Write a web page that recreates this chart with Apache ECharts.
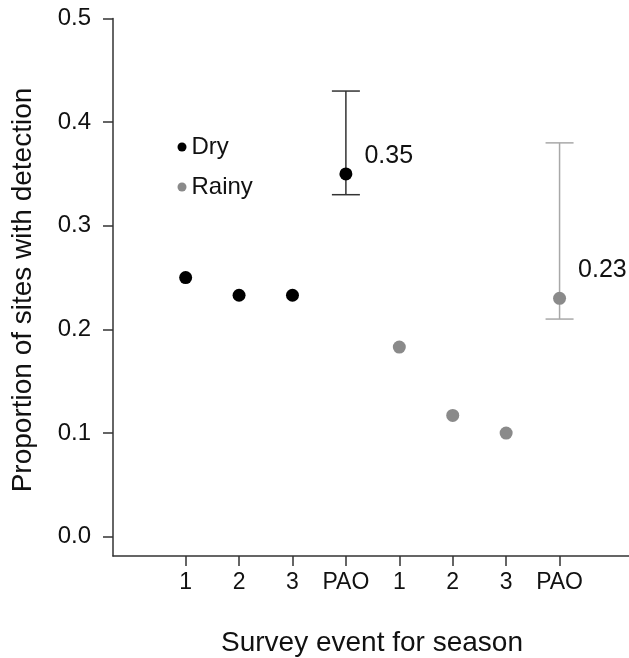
<!DOCTYPE html>
<html>
<head>
<meta charset="utf-8">
<title>Proportion of sites with detection</title>
<script src="https://cdn.jsdelivr.net/npm/echarts@6/dist/echarts.min.js"></script>
<style>
  html, body { margin: 0; padding: 0; background: #fff; }
  #chart { width: 629px; height: 658px; }
</style>
</head>
<body>
<div id="chart"></div>
<script>
// Survey events within each season; the last one is the season-level estimate (PAO)
const eventLabels = ['1', '2', '3', 'PAO'];
// Proportion of sites with a detection, per survey event
const dryValues = [0.25, 0.233, 0.233, 0.35];
const rainyValues = [0.183, 0.117, 0.1, 0.23];
// Interval around the PAO estimate: [lower, upper]
const dryPaoInterval = [0.33, 0.43];
const rainyPaoInterval = [0.21, 0.38];
// Y axis ticks
const yTicks = [0, 0.1, 0.2, 0.3, 0.4, 0.5];

const FONT = '"Liberation Sans", Arial, sans-serif';
const TEXT = '#111';
const AXIS = '#333';
const DRY = '#000';
const RAINY = '#8a8a8a';
const RAINY_BAR = '#a8a8a8';

// Dry events occupy positions 1-4, rainy events 5-8
const dryX = eventLabels.map((_, i) => i + 1);
const rainyX = eventLabels.map((_, i) => i + 1 + eventLabels.length);
const tickPositions = dryX.concat(rainyX);
const tickLabels = eventLabels.concat(eventLabels);

function seasonPoints(xs, values, labelOffset) {
  const last = values.length - 1;
  return values.map((v, i) => {
    const item = { value: [xs[i], v] };
    if (i === last) {
      item.label = {
        show: true,
        position: 'right',
        distance: 12,
        offset: labelOffset,
        formatter: p => p.value[1].toFixed(2),
        color: TEXT,
        fontSize: 25,
        fontFamily: FONT
      };
    }
    return item;
  });
}

function errorBar(color) {
  return function (params, api) {
    const x = api.value(0);
    const lo = api.coord([x, api.value(1)]);
    const hi = api.coord([x, api.value(2)]);
    const half = 14;
    const style = { stroke: color, lineWidth: 1.5 };
    return {
      type: 'group',
      children: [
        { type: 'line', shape: { x1: lo[0], y1: lo[1], x2: hi[0], y2: hi[1] }, style },
        { type: 'line', shape: { x1: hi[0] - half, y1: hi[1], x2: hi[0] + half, y2: hi[1] }, style },
        { type: 'line', shape: { x1: lo[0] - half, y1: lo[1], x2: lo[0] + half, y2: lo[1] }, style }
      ]
    };
  };
}

const chart = echarts.init(document.getElementById('chart'), null, { renderer: 'canvas' });

chart.setOption({
  animation: false,
  backgroundColor: '#fff',
  grid: { left: 113, top: 18.5, width: 517, height: 537.5, containLabel: false },
  xAxis: {
    type: 'value',
    min: -0.36,
    max: 9.3,
    splitLine: { show: false },
    axisLine: { show: true, onZero: false, lineStyle: { color: AXIS, width: 1.5 } },
    axisTick: { show: true, customValues: tickPositions, length: 10, lineStyle: { color: AXIS, width: 1.5 } },
    axisLabel: {
      customValues: tickPositions,
      formatter: v => tickLabels[tickPositions.indexOf(v)] || '',
      margin: 15,
      color: TEXT,
      fontSize: 23,
      fontFamily: FONT
    }
  },
  yAxis: {
    type: 'value',
    min: -0.0186,
    max: 0.5,
    splitLine: { show: false },
    axisLine: { show: true, onZero: false, lineStyle: { color: AXIS, width: 1.5 } },
    axisTick: { show: true, customValues: yTicks, length: 10, lineStyle: { color: AXIS, width: 1.5 } },
    axisLabel: {
      customValues: yTicks,
      formatter: v => v.toFixed(1),
      margin: 22,
      color: TEXT,
      fontSize: 24,
      fontFamily: FONT
    }
  },
  legend: {
    orient: 'vertical',
    left: 177.5,
    top: 135,
    padding: 0,
    itemWidth: 9,
    itemHeight: 9,
    itemGap: 16,
    icon: 'circle',
    data: ['Dry', 'Rainy'],
    textStyle: { color: TEXT, fontSize: 24, fontFamily: FONT, lineHeight: 24 }
  },
  graphic: [
    {
      type: 'text',
      x: 23,
      y: 290,
      rotation: Math.PI / 2,
      style: {
        text: 'Proportion of sites with detection',
        fill: TEXT,
        fontSize: 28,
        fontFamily: FONT,
        align: 'center',
        verticalAlign: 'middle'
      }
    },
    {
      type: 'text',
      x: 372,
      y: 643,
      style: {
        text: 'Survey event for season',
        fill: TEXT,
        fontSize: 28,
        fontFamily: FONT,
        align: 'center',
        verticalAlign: 'middle'
      }
    }
  ],
  series: [
    {
      type: 'custom',
      name: 'dryInterval',
      renderItem: errorBar(AXIS),
      data: [[dryX[dryX.length - 1], dryPaoInterval[0], dryPaoInterval[1]]],
      z: 1,
      silent: true
    },
    {
      type: 'custom',
      name: 'rainyInterval',
      renderItem: errorBar(RAINY_BAR),
      data: [[rainyX[rainyX.length - 1], rainyPaoInterval[0], rainyPaoInterval[1]]],
      z: 1,
      silent: true
    },
    {
      type: 'scatter',
      name: 'Dry',
      symbol: 'circle',
      symbolSize: 13,
      itemStyle: { color: DRY, opacity: 1 },
      data: seasonPoints(dryX, dryValues, [0, -18]),
      z: 3
    },
    {
      type: 'scatter',
      name: 'Rainy',
      symbol: 'circle',
      symbolSize: 13,
      itemStyle: { color: RAINY, opacity: 1 },
      data: seasonPoints(rainyX, rainyValues, [0, -28]),
      z: 3
    }
  ]
});
</script>
</body>
</html>
